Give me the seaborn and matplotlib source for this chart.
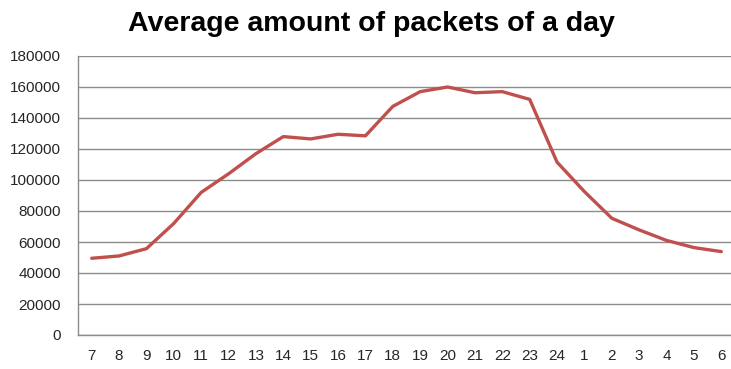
import numpy as np
import pandas as pd
import seaborn as sns
import matplotlib.pyplot as plt

# --- data ---
hours = ["7", "8", "9", "10", "11", "12", "13", "14", "15", "16", "17", "18",
         "19", "20", "21", "22", "23", "24", "1", "2", "3", "4", "5", "6"]
packets = [49500, 51000, 55700, 72000, 92000, 104000, 117000, 128000, 126500,
           129500, 128500, 147500, 157000, 160000, 156300, 157000, 152000,
           111500, 92500, 75300, 67800, 61000, 56400, 53800]
y_ticks = list(range(0, 180001, 20000))

df = pd.DataFrame({"Hour": hours, "Packets": packets})

# --- style ---
sns.set_style("white")
plt.rcParams["font.family"] = ["Liberation Sans", "DejaVu Sans"]

line_color = "#C0504D"
grid_color = "#8C8C8C"
text_color = "#262626"

fig = plt.figure(figsize=(7.31, 3.69), dpi=100)
ax = fig.add_axes([78 / 731, 34 / 369, 657 / 731, 279 / 369])

sns.lineplot(data=df, x="Hour", y="Packets", ax=ax, sort=False,
             color=line_color, linewidth=2.4, estimator=None)

ax.set_ylim(0, 180000)
ax.set_xlim(-0.5, len(hours) - 0.5)
ax.set_yticks(y_ticks)
ax.set_yticklabels([str(v) for v in y_ticks])

# category labels centred, tick marks on the boundaries (Excel style)
centers = np.arange(len(hours))
ax.set_xticks(centers - 0.5)
ax.set_xticklabels([])
ax.set_xticks(centers, minor=True)
ax.set_xticklabels(hours, minor=True)
ax.tick_params(axis="x", which="major", length=4, width=1, color=grid_color,
               direction="out")
ax.tick_params(axis="x", which="minor", length=0, pad=10, labelsize=11,
               labelcolor=text_color)
ax.tick_params(axis="y", length=4, width=1, color=grid_color, direction="out",
               pad=8.5, labelsize=11, labelcolor=text_color)

ax.grid(axis="y", color=grid_color, linewidth=1)
ax.set_axisbelow(True)
for side in ["top", "right"]:
    ax.spines[side].set_visible(False)
for side in ["left", "bottom"]:
    ax.spines[side].set_color(grid_color)
    ax.spines[side].set_linewidth(1)

ax.set_xlabel("")
ax.set_ylabel("")

fig.text(0.508, 0.935, "Average amount of packets of a day", ha="center",
         va="center", fontsize=20.5, fontweight="bold", color="black")

plt.savefig("out.png", dpi=100)
